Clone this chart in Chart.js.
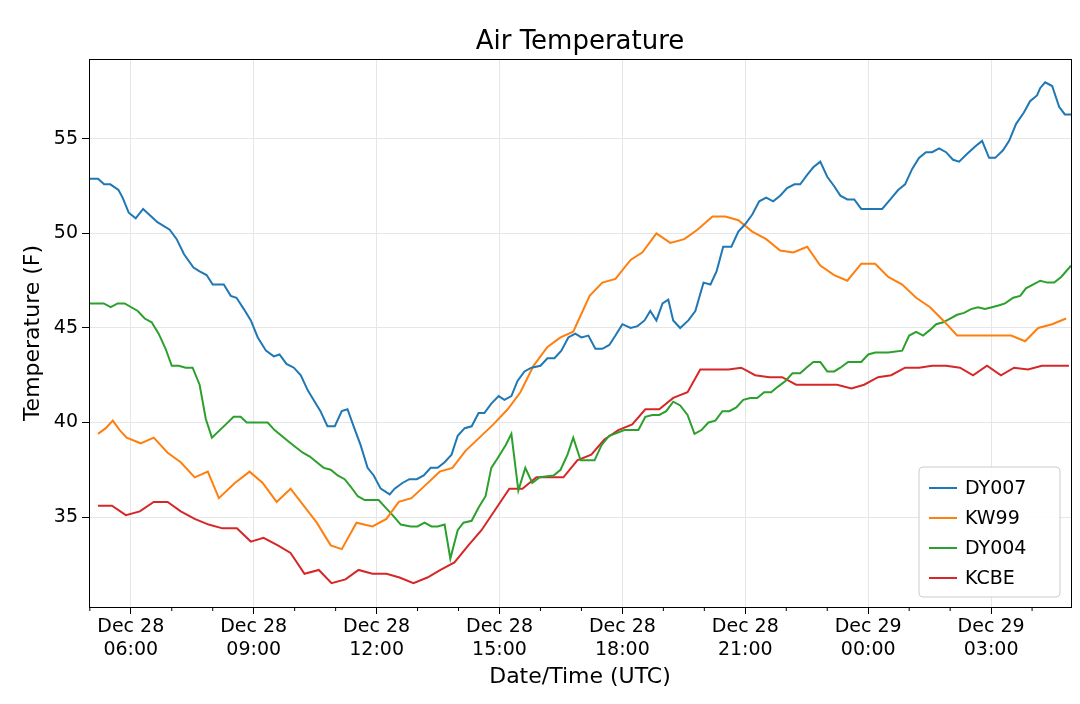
<!DOCTYPE html>
<html><head><meta charset="utf-8">
<script src="https://cdn.jsdelivr.net/npm/chart.js@4"></script>
<style>html,body{margin:0;padding:0;background:#fff}#wrap{width:1080px;height:704px}</style>
</head><body><div id="wrap"><canvas id="c"></canvas></div>
<script>
const seriesNames = ['DY007','KW99','DY004','KCBE'];
const seriesColors = ['#1f77b4','#ff7f0e','#2ca02c','#d62728'];
const xTickHours = [6,9,12,15,18,21,24,27];
const xTickLabels = [['Dec 28','06:00'],['Dec 28','09:00'],['Dec 28','12:00'],['Dec 28','15:00'],['Dec 28','18:00'],['Dec 28','21:00'],['Dec 29','00:00'],['Dec 29','03:00']];
const yTicks = [35,40,45,50,55];

const dy007 = [[5.0,52.9],[5.2,52.9],[5.35,52.6],[5.5,52.6],[5.7,52.3],[5.8,51.9],[5.95,51.1],[6.12,50.8],[6.3,51.3],[6.5,50.9],[6.65,50.6],[6.95,50.2],[7.12,49.7],[7.3,48.9],[7.53,48.2],[7.68,48.0],[7.85,47.8],[8.0,47.3],[8.27,47.3],[8.44,46.7],[8.58,46.6],[8.76,46.0],[8.93,45.4],[9.1,44.5],[9.3,43.8],[9.49,43.5],[9.63,43.6],[9.8,43.1],[9.98,42.9],[10.15,42.5],[10.32,41.7],[10.46,41.2],[10.63,40.6],[10.8,39.8],[10.98,39.8],[11.15,40.6],[11.29,40.7],[11.44,39.8],[11.61,38.8],[11.78,37.6],[11.93,37.2],[12.1,36.5],[12.32,36.2],[12.44,36.5],[12.63,36.8],[12.8,37.0],[12.98,37.0],[13.15,37.2],[13.32,37.6],[13.49,37.6],[13.66,37.9],[13.83,38.3],[13.98,39.3],[14.15,39.7],[14.32,39.8],[14.49,40.5],[14.63,40.5],[14.8,41.0],[14.98,41.4],[15.12,41.2],[15.29,41.4],[15.44,42.2],[15.61,42.7],[15.78,42.9],[16.0,43.0],[16.17,43.4],[16.34,43.4],[16.51,43.8],[16.68,44.5],[16.85,44.7],[17.0,44.5],[17.17,44.6],[17.34,43.9],[17.51,43.9],[17.68,44.1],[17.83,44.6],[18.0,45.2],[18.2,45.0],[18.37,45.1],[18.54,45.4],[18.68,45.9],[18.83,45.4],[18.98,46.3],[19.12,46.5],[19.24,45.4],[19.41,45.0],[19.61,45.4],[19.78,45.9],[19.98,47.4],[20.15,47.3],[20.3,48.0],[20.46,49.3],[20.66,49.3],[20.83,50.1],[21.0,50.5],[21.17,51.0],[21.34,51.7],[21.51,51.9],[21.68,51.7],[21.85,52.0],[22.02,52.4],[22.2,52.6],[22.34,52.6],[22.51,53.1],[22.66,53.5],[22.83,53.8],[23.0,53.0],[23.17,52.5],[23.32,52.0],[23.49,51.8],[23.66,51.8],[23.83,51.3],[24.0,51.3],[24.2,51.3],[24.34,51.3],[24.54,51.8],[24.73,52.3],[24.9,52.6],[25.07,53.4],[25.24,54.0],[25.41,54.3],[25.56,54.3],[25.73,54.5],[25.9,54.3],[26.07,53.9],[26.22,53.8],[26.41,54.2],[26.61,54.6],[26.78,54.9],[26.95,54.0],[27.1,54.0],[27.29,54.4],[27.44,54.9],[27.61,55.8],[27.8,56.4],[27.95,57.0],[28.12,57.3],[28.2,57.7],[28.32,58.0],[28.49,57.8],[28.66,56.7],[28.8,56.3],[28.95,56.3]];
const kw99 = [[5.2,39.4],[5.39,39.7],[5.56,40.1],[5.73,39.6],[5.9,39.2],[6.24,38.9],[6.56,39.2],[6.9,38.4],[7.22,37.9],[7.56,37.1],[7.88,37.4],[8.15,36.0],[8.54,36.8],[8.9,37.4],[9.22,36.8],[9.56,35.8],[9.9,36.5],[10.54,34.7],[10.88,33.5],[11.15,33.3],[11.51,34.7],[11.9,34.5],[12.24,34.9],[12.54,35.8],[12.85,36.0],[13.2,36.7],[13.54,37.4],[13.85,37.6],[14.17,38.5],[14.85,39.9],[15.2,40.7],[15.51,41.6],[15.83,43.0],[16.17,44.0],[16.49,44.5],[16.8,44.8],[17.2,46.7],[17.51,47.4],[17.83,47.6],[18.2,48.6],[18.49,49.0],[18.83,50.0],[19.17,49.5],[19.51,49.7],[19.83,50.2],[20.2,50.9],[20.51,50.9],[20.83,50.7],[21.17,50.1],[21.51,49.7],[21.85,49.1],[22.17,49.0],[22.51,49.3],[22.83,48.3],[23.17,47.8],[23.49,47.5],[23.83,48.4],[24.17,48.4],[24.49,47.7],[24.83,47.3],[25.17,46.6],[25.51,46.1],[25.83,45.4],[26.17,44.6],[26.51,44.6],[26.83,44.6],[27.17,44.6],[27.49,44.6],[27.83,44.3],[28.15,45.0],[28.49,45.2],[28.83,45.5]];
const dy004 = [[5.0,46.3],[5.34,46.3],[5.51,46.1],[5.68,46.3],[5.85,46.3],[6.17,45.9],[6.34,45.5],[6.51,45.3],[6.68,44.7],[6.85,43.9],[7.0,43.0],[7.17,43.0],[7.34,42.9],[7.51,42.9],[7.68,42.0],[7.83,40.2],[7.98,39.2],[8.32,39.9],[8.51,40.3],[8.68,40.3],[8.83,40.0],[9.17,40.0],[9.34,40.0],[9.51,39.6],[9.68,39.3],[9.85,39.0],[10.02,38.7],[10.2,38.4],[10.37,38.2],[10.54,37.9],[10.71,37.6],[10.88,37.5],[11.05,37.2],[11.22,37.0],[11.37,36.6],[11.54,36.1],[11.71,35.9],[12.05,35.9],[12.22,35.5],[12.39,35.1],[12.59,34.6],[12.83,34.5],[13.0,34.5],[13.17,34.7],[13.34,34.5],[13.49,34.5],[13.66,34.6],[13.8,32.8],[13.98,34.3],[14.12,34.7],[14.32,34.8],[14.49,35.5],[14.66,36.1],[14.8,37.6],[14.95,38.1],[15.15,38.8],[15.29,39.4],[15.46,36.4],[15.63,37.6],[15.8,36.8],[15.98,37.1],[16.32,37.2],[16.49,37.5],[16.66,38.3],[16.8,39.2],[16.98,38.0],[17.32,38.0],[17.49,38.8],[17.68,39.3],[18.05,39.6],[18.39,39.6],[18.56,40.3],[18.73,40.4],[18.9,40.4],[19.07,40.6],[19.24,41.1],[19.41,40.9],[19.59,40.4],[19.76,39.4],[19.93,39.6],[20.1,40.0],[20.27,40.1],[20.44,40.6],[20.61,40.6],[20.78,40.8],[20.95,41.2],[21.12,41.3],[21.29,41.3],[21.46,41.6],[21.63,41.6],[21.8,41.9],[21.98,42.2],[22.15,42.6],[22.34,42.6],[22.49,42.9],[22.66,43.2],[22.83,43.2],[23.0,42.7],[23.17,42.7],[23.32,42.9],[23.51,43.2],[23.83,43.2],[24.0,43.6],[24.17,43.7],[24.49,43.7],[24.83,43.8],[25.0,44.6],[25.17,44.8],[25.34,44.6],[25.51,44.9],[25.66,45.2],[25.83,45.3],[26.0,45.5],[26.17,45.7],[26.34,45.8],[26.51,46.0],[26.68,46.1],[26.85,46.0],[27.02,46.1],[27.2,46.2],[27.34,46.3],[27.54,46.6],[27.71,46.7],[27.85,47.1],[28.02,47.3],[28.2,47.5],[28.37,47.4],[28.54,47.4],[28.71,47.7],[28.95,48.3]];
const kcbe = [[5.2,35.6],[5.54,35.6],[5.88,35.1],[6.22,35.3],[6.56,35.8],[6.9,35.8],[7.22,35.3],[7.56,34.9],[7.9,34.6],[8.24,34.4],[8.59,34.4],[8.93,33.7],[9.24,33.9],[9.59,33.5],[9.9,33.1],[10.24,32.0],[10.59,32.2],[10.9,31.5],[11.24,31.7],[11.56,32.2],[11.9,32.0],[12.24,32.0],[12.56,31.8],[12.9,31.5],[13.24,31.8],[13.56,32.2],[13.9,32.6],[14.24,33.5],[14.56,34.3],[14.9,35.4],[15.24,36.5],[15.56,36.5],[15.9,37.1],[16.24,37.1],[16.56,37.1],[16.9,38.0],[17.24,38.3],[17.56,39.1],[17.9,39.6],[18.24,39.9],[18.56,40.7],[18.9,40.7],[19.24,41.3],[19.59,41.6],[19.9,42.8],[20.24,42.8],[20.59,42.8],[20.9,42.9],[21.24,42.5],[21.59,42.4],[21.9,42.4],[22.24,42.0],[22.59,42.0],[22.9,42.0],[23.24,42.0],[23.59,41.8],[23.9,42.0],[24.24,42.4],[24.56,42.5],[24.9,42.9],[25.24,42.9],[25.56,43.0],[25.9,43.0],[26.24,42.9],[26.56,42.5],[26.9,43.0],[27.24,42.5],[27.56,42.9],[27.9,42.8],[28.24,43.0],[28.56,43.0],[28.9,43.0]];
const allSeries = [dy007, kw99, dy004, kcbe];

const FONT = 'DejaVu Sans';
const frame = {
  id:'frame',
  afterDraw(ch){
    const {ctx, chartArea:a} = ch;
    ctx.save();
    ctx.strokeStyle='#000'; ctx.lineWidth=1;
    ctx.strokeRect(a.left+0.5,a.top+0.5,a.right-a.left,a.bottom-a.top);
    const xs = ch.scales.x;
    for(let h=5; h<=29; h++){
      if(h%3===0) continue;
      const px = xs.getPixelForValue(h);
      if(px<a.left||px>a.right) continue;
      ctx.beginPath(); ctx.moveTo(px,a.bottom); ctx.lineTo(px,a.bottom+4); ctx.stroke();
    }
    ctx.fillStyle='#000'; ctx.font='26px "'+FONT+'"'; ctx.textAlign='center'; ctx.textBaseline='middle';
    ctx.fillText('Air Temperature',(a.left+a.right)/2,42);
    const bx=919, by=467, bw=141, bh=130;
    ctx.fillStyle='rgba(255,255,255,0.85)';
    ctx.strokeStyle='#ccc';
    ctx.beginPath(); ctx.roundRect(bx,by,bw,bh,4); ctx.fill(); ctx.stroke();
    ctx.font='19px "'+FONT+'"'; ctx.textAlign='left';
    ch.data.datasets.forEach((d,i)=>{
      const y = by+21+i*30;
      ctx.strokeStyle=d.borderColor; ctx.lineWidth=2;
      ctx.beginPath(); ctx.moveTo(bx+10,y); ctx.lineTo(bx+38,y); ctx.stroke();
      ctx.fillStyle='#000'; ctx.fillText(d.label,bx+46,y+1);
    });
    ctx.restore();
  }
};

new Chart(document.getElementById('c'),{
  type:'line',
  data:{datasets: seriesNames.map((n,i)=>({label:n, data: allSeries[i].map(p=>({x:p[0],y:p[1]})), borderColor:seriesColors[i], backgroundColor:seriesColors[i], borderWidth:2, pointRadius:0, tension:0}))},
  options:{
    responsive:true, maintainAspectRatio:false, animation:false,
    layout:{padding:{top:59,right:9,left:20,bottom:14}},
    plugins:{legend:{display:false},title:{display:false},tooltip:{enabled:false}},
    scales:{
      x:{type:'linear',min:4.98,max:28.95,
        afterBuildTicks(s){s.ticks = xTickHours.map(v=>({value:v}));},
        afterFit(s){s.height=83;},
        ticks:{autoSkip:false,maxRotation:0,color:'#000',font:{family:FONT,size:19},padding:2,
          callback(v){const i=xTickHours.indexOf(v); return i>=0?xTickLabels[i]:'';}},
        grid:{color:'#e6e6e6',tickColor:'#000',tickLength:7,drawTicks:true},
        border:{color:'#000'},
        title:{display:true,text:'Date/Time (UTC)',color:'#000',font:{family:FONT,size:22},padding:{top:0,bottom:0}}
      },
      y:{min:30.24,max:59.23,
        afterBuildTicks(s){s.ticks = yTicks.map(v=>({value:v}));},
        afterFit(s){s.width=69;},
        ticks:{color:'#000',font:{family:FONT,size:19},padding:4},
        grid:{color:'#e6e6e6',tickColor:'#000',tickLength:7},
        border:{color:'#000'},
        title:{display:true,text:'Temperature (F)',color:'#000',font:{family:FONT,size:22},padding:{top:0,bottom:0}}
      }
    }
  },
  plugins:[frame]
});
</script></body></html>
